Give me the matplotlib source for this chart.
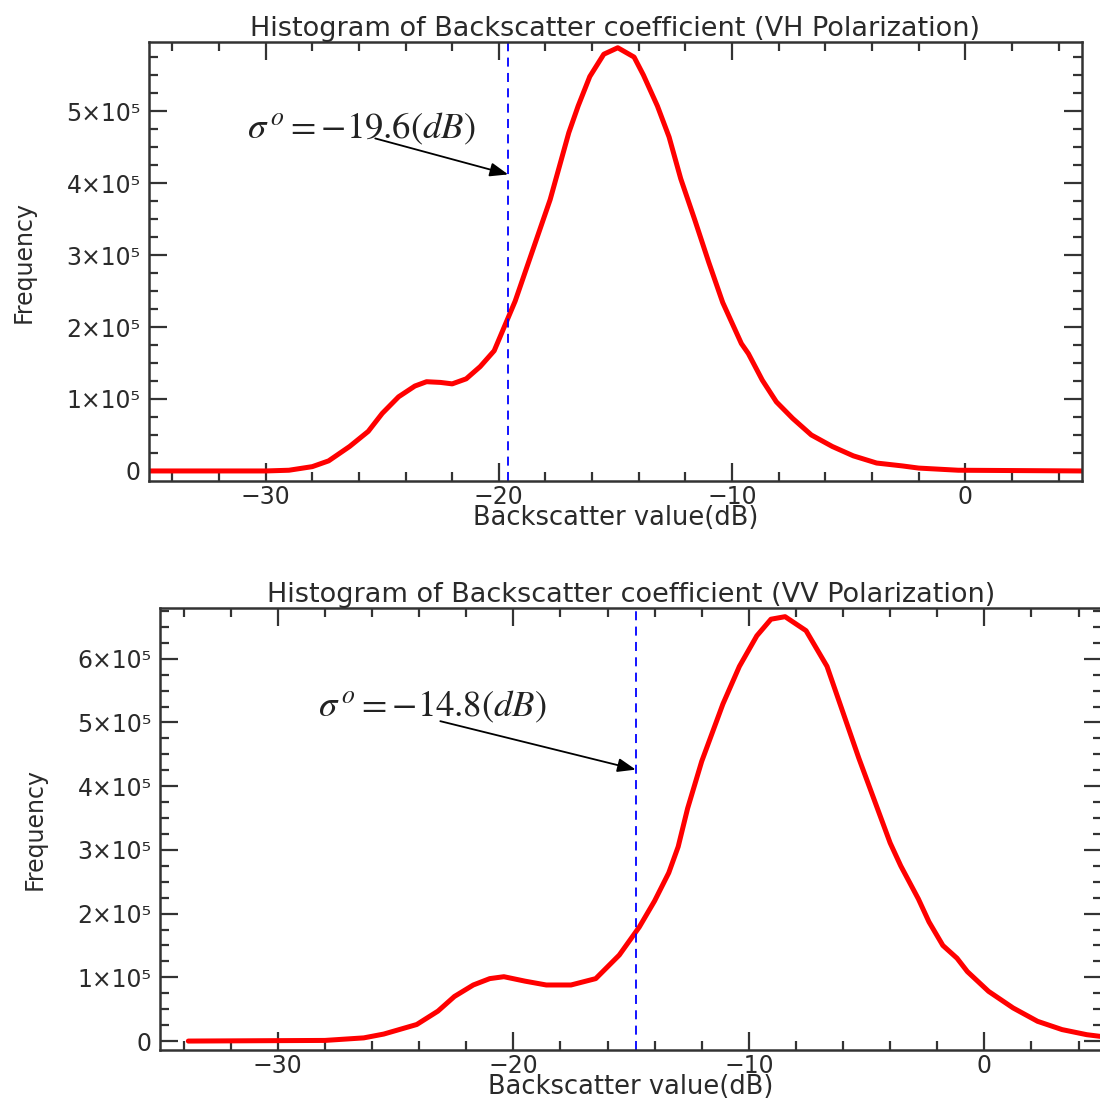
import numpy as np
import matplotlib
matplotlib.use('Agg')
import matplotlib.pyplot as plt
from matplotlib.ticker import MultipleLocator, FuncFormatter

plt.rcParams['font.family'] = ['DejaVu Sans']
plt.rcParams['mathtext.fontset'] = 'stix'

# Backscatter (dB) vs pixel count, VH polarization
vh_db = [-35, -30, -29, -28, -27.3, -26.4, -25.6, -25.0, -24.3, -23.6, -23.1,
         -22.5, -22.0, -21.4, -20.8, -20.2, -19.6, -19.3, -18.3, -17.8, -17.0,
         -16.6, -16.1, -15.5, -14.9, -14.2, -13.8, -13.2, -12.7, -12.2, -11.6,
         -11.0, -10.4, -9.6, -9.3, -8.7, -8.1, -7.4, -6.6, -5.7, -4.8, -3.8,
         -2.7, -2.0, -0.3, 5]
vh_freq = [0, 0, 0.01, 0.06, 0.14, 0.34, 0.55, 0.80, 1.03, 1.18, 1.24,
           1.23, 1.21, 1.28, 1.45, 1.67, 2.13, 2.36, 3.30, 3.77, 4.70,
           5.07, 5.48, 5.79, 5.88, 5.75, 5.50, 5.07, 4.64, 4.06, 3.49,
           2.90, 2.34, 1.77, 1.63, 1.26, 0.96, 0.73, 0.50, 0.34, 0.21, 0.11,
           0.07, 0.04, 0.01, 0]

# VV polarization
vv_db = [-33.8, -28.0, -26.35, -25.5, -24.1, -23.2, -22.5, -21.7, -21.0, -20.4,
         -19.5, -18.6, -17.55, -16.5, -15.5, -14.65, -14.0, -13.4, -13.0, -12.6,
         -12.0, -11.1, -10.4, -9.66, -9.06, -8.46, -7.57, -6.68, -6.08, -5.33,
         -4.59, -4.0, -3.55, -2.8, -2.35, -1.76, -1.16, -0.72, 0.18, 1.22,
         2.26, 3.3, 4.35, 5.0]
vv_freq = [0, 0.01, 0.05, 0.11, 0.26, 0.47, 0.70, 0.88, 0.98, 1.01,
           0.94, 0.88, 0.88, 0.98, 1.35, 1.79, 2.20, 2.64, 3.05, 3.65,
           4.39, 5.29, 5.88, 6.36, 6.62, 6.66, 6.44, 5.88, 5.24, 4.44,
           3.70, 3.11, 2.75, 2.23, 1.87, 1.50, 1.30, 1.09, 0.78, 0.52,
           0.31, 0.18, 0.10, 0.07]

thresholds = [-19.6, -14.8]
titles = ['Histogram of Backscatter coefficient (VH Polarization)',
          'Histogram of Backscatter coefficient (VV Polarization)']

TXT = '#2a2a2a'


def freq_label(v, pos):
    n = int(round(v / 1e5))
    return '0' if n == 0 else f'{n}×10⁵'


def draw_panel(ax, db, freq, thr, title, ymax, text_xy, tail_xy, head_y):
    ax.plot(db, np.array(freq) * 1e5, color='red', lw=3.6,
            solid_joinstyle='round', solid_capstyle='round')
    ax.axvline(thr, color='blue', lw=1.3, dashes=(5, 3.5))
    ax.set_xlim(-35, 5)
    ax.set_ylim(-14000, ymax)

    ax.xaxis.set_major_locator(MultipleLocator(10))
    ax.xaxis.set_minor_locator(MultipleLocator(2))
    ax.yaxis.set_major_locator(MultipleLocator(1e5))
    ax.yaxis.set_minor_locator(MultipleLocator(2.5e4))
    ax.yaxis.set_major_formatter(FuncFormatter(freq_label))
    ax.xaxis.set_major_formatter(FuncFormatter(lambda v, p: f'{v:.0f}'.replace('-', '−')))

    ax.tick_params(which='both', direction='in', top=True, right=True,
                   colors='#333333', labelcolor=TXT, labelsize=17, width=1.6)
    ax.tick_params(which='major', length=13)
    ax.tick_params(which='minor', length=6.5)
    ax.tick_params(axis='x', pad=3)
    ax.tick_params(axis='y', pad=6)
    for s in ax.spines.values():
        s.set_color('#333333')
        s.set_linewidth(1.8)

    ax.set_title(title, fontsize=19.5, color=TXT, pad=4)
    ax.set_xlabel('Backscatter value(dB)', fontsize=18.5, color=TXT, labelpad=-3)
    ax.set_ylabel('Frequency', fontsize=17, color=TXT, labelpad=22)

    ax.text(text_xy[0], text_xy[1], rf'$\sigma^{{\,o}}=-{abs(thr):.1f}(dB)$',
            fontsize=26.5, ha='left', va='center', color='#222222')
    ax.annotate('', xy=(thr, head_y), xytext=tail_xy,
                arrowprops=dict(arrowstyle='-|>,head_length=1.1,head_width=0.42',
                                color='black', lw=1.3, shrinkA=0, shrinkB=0))


fig = plt.figure(figsize=(11, 10.99), dpi=100)
ax1 = fig.add_axes([0.1355, 0.5623, 0.848, 0.3995])
ax2 = fig.add_axes([0.1455, 0.0446, 0.8564, 0.4024])

draw_panel(ax1, vh_db, vh_freq, thresholds[0], titles[0], 5.96e5,
           (-30.8, 4.76e5), (-25.3, 4.62e5), 4.12e5)
draw_panel(ax2, vv_db, vv_freq, thresholds[1], titles[1], 6.8e5,
           (-28.3, 5.25e5), (-23.1, 5.02e5), 4.26e5)

fig.savefig('out.png', dpi=100)
